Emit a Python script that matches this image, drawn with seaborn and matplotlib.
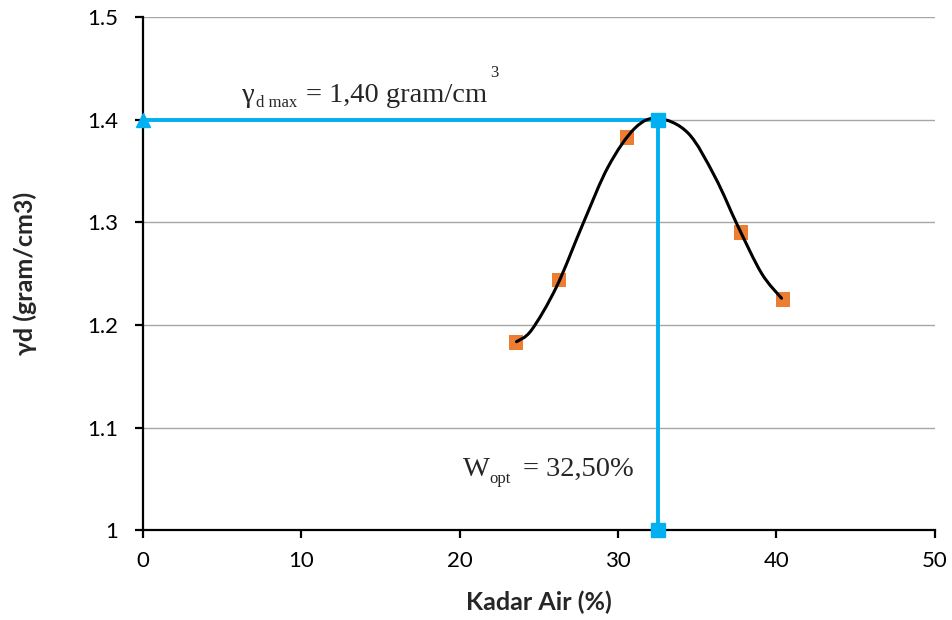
import matplotlib
matplotlib.use("Agg")
import matplotlib.pyplot as plt
from matplotlib.path import Path
from matplotlib.patches import PathPatch
import seaborn as sns
import pandas as pd

# Measured data (orange squares)
kadar_air = [23.55, 26.26, 30.56, 37.75, 40.40]
gamma_d = [1.183, 1.244, 1.383, 1.290, 1.225]

# Smoothed compaction curve
curve_x = [23.59, 24.54, 26.12, 27.80, 29.38, 31.06, 32.53, 34.43, 36.11, 37.58, 39.06, 40.32]
curve_y = [1.1837, 1.1951, 1.2374, 1.2992, 1.3544, 1.3919, 1.4015, 1.3870, 1.3447, 1.2959,
           1.2504, 1.2261]

# Optimum values
w_opt = 32.5
gd_max = 1.40
y_min = 1.0

x_ticks = [0, 10, 20, 30, 40, 50]
y_ticks = [1.0, 1.1, 1.2, 1.3, 1.4, 1.5]
y_tick_labels = ["1", "1.1", "1.2", "1.3", "1.4", "1.5"]

sns.set_style("white")
plt.rcParams['font.family'] = ['Lato', 'DejaVu Sans']

fig = plt.figure(figsize=(9.52, 6.2), dpi=100)
ax = fig.add_axes([0.150, 0.145, 0.832, 0.827])

blue = "#00B0F0"
orange = "#ED7D31"

ax.set_xlim(0, 50)
ax.set_ylim(1.0, 1.5)
ax.set_yticks(y_ticks)
ax.set_yticklabels(y_tick_labels)
ax.set_xticks(x_ticks)
ax.yaxis.grid(True, color="#A6A6A6", linewidth=1.0)
ax.xaxis.grid(False)
ax.set_axisbelow(True)

for s in ["top", "right"]:
    ax.spines[s].set_visible(False)
for s in ["left", "bottom"]:
    ax.spines[s].set_color("black")
    ax.spines[s].set_linewidth(1.6)

ax.tick_params(axis="both", which="major", direction="out", length=6, width=1.6,
               color="black", labelsize=16, labelcolor="black", bottom=True, left=True)
ax.tick_params(axis="x", pad=9)
ax.tick_params(axis="y", pad=12)

# Blue guide lines
guide_h = pd.DataFrame({"x": [0, w_opt], "y": [gd_max, gd_max]})
guide_v = pd.DataFrame({"x": [w_opt, w_opt], "y": [gd_max, y_min]})
sns.lineplot(data=guide_h, x="x", y="y", ax=ax, color=blue, linewidth=2.8, zorder=3,
             estimator=None, sort=False)
sns.lineplot(data=guide_v, x="x", y="y", ax=ax, color=blue, linewidth=2.8, zorder=3,
             estimator=None, sort=False)
ax.plot([0], [gd_max], marker="^", color=blue, markersize=10, clip_on=False, zorder=5,
        linestyle="none")
ax.plot([w_opt, w_opt], [gd_max, y_min], marker="s", color=blue, markersize=10,
        clip_on=False, zorder=5, linestyle="none")

# Curve drawn as a smoothed line (Catmull-Rom style Bezier through the read points)
pts_c = list(zip(curve_x, curve_y))
n = len(pts_c)
verts = [pts_c[0]]
codes = [Path.MOVETO]
for i in range(n - 1):
    p0 = pts_c[i - 1] if i > 0 else pts_c[i]
    p1 = pts_c[i]
    p2 = pts_c[i + 1]
    p3 = pts_c[i + 2] if i + 2 < n else pts_c[i + 1]
    c1 = (p1[0] + (p2[0] - p0[0]) / 6, p1[1] + (p2[1] - p0[1]) / 6)
    c2 = (p2[0] - (p3[0] - p1[0]) / 6, p2[1] - (p3[1] - p1[1]) / 6)
    verts += [c1, c2, p2]
    codes += [Path.CURVE4, Path.CURVE4, Path.CURVE4]
ax.add_patch(PathPatch(Path(verts, codes), facecolor="none", edgecolor="black",
                       linewidth=2.2, zorder=4, capstyle="round", transform=ax.transData))

# Data points
pts = pd.DataFrame({"w": kadar_air, "g": gamma_d})
sns.scatterplot(data=pts, x="w", y="g", ax=ax, marker="s", color=orange, s=110,
                edgecolor="none", zorder=3)

ax.set_xlabel("Kadar Air (%)", fontsize=18, fontweight="bold", labelpad=14)
ax.set_ylabel("γd (gram/cm3)", fontsize=18, fontweight="bold", labelpad=36)

serif = "Liberation Serif"
big = 20.5
small = 12
# gamma_d max annotation
ax.text(6.25, 1.4176, "γ", fontsize=big, family=serif, ha="left", va="baseline")
ax.text(7.13, 1.4127, "d max", fontsize=small, family=serif, ha="left", va="baseline")
ax.text(10.30, 1.4176, "= 1,40 gram/cm", fontsize=big, family=serif, ha="left", va="baseline")
ax.text(21.95, 1.4537, "3", fontsize=small, family=serif, ha="left", va="top")
# W_opt annotation
ax.text(20.2, 1.0527, "W", fontsize=big, family=serif, ha="left", va="baseline")
ax.text(21.9, 1.0459, "opt", fontsize=small, family=serif, ha="left", va="baseline")
ax.text(23.99, 1.0527, "= 32,50%", fontsize=big, family=serif, ha="left", va="baseline")

fig.savefig("out.png", dpi=100)
